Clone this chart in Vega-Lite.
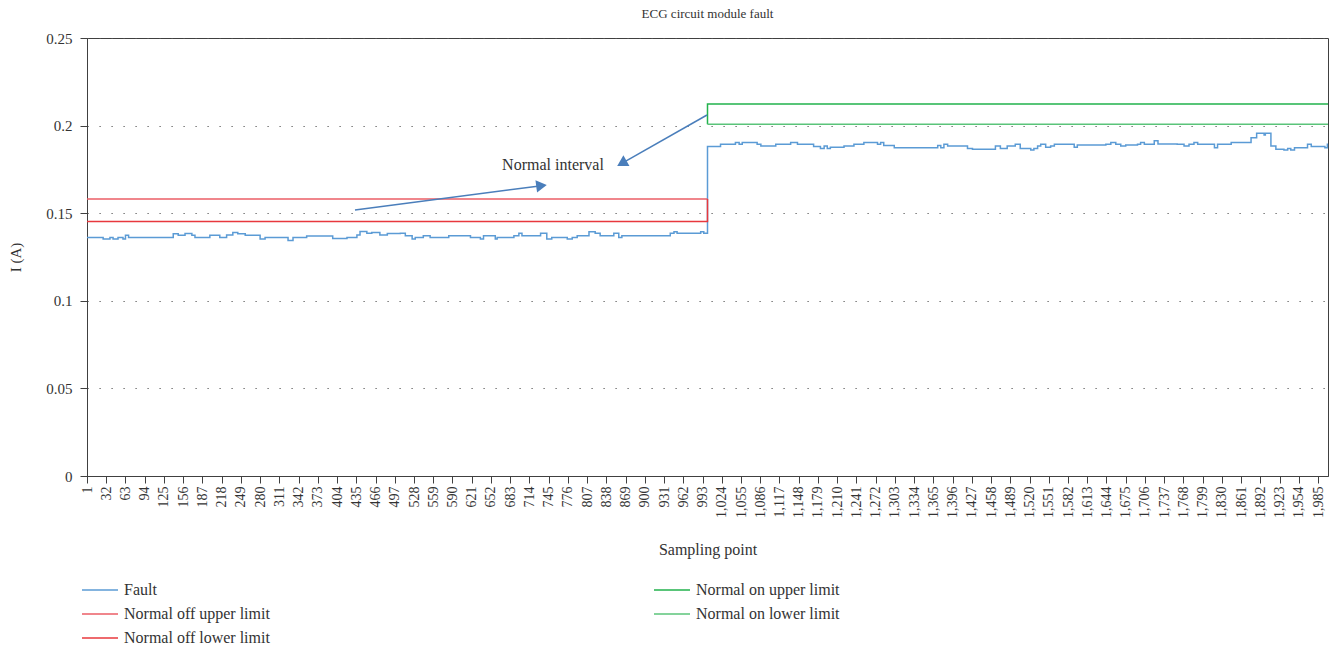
{
  "$schema": "https://vega.github.io/schema/vega-lite/v6.json",
  "width": 1241,
  "height": 438,
  "autosize": {"type": "none"},
  "padding": {"left": 87, "top": 38, "right": 6, "bottom": 176},
  "background": "white",
  "config": {
    "font": "Liberation Serif",
    "view": {"stroke": "#404040", "strokeWidth": 1},
    "axis": {
      "domainColor": "#404040",
      "tickColor": "#404040",
      "labelColor": "#333333",
      "titleColor": "#333333",
      "titleFontWeight": "normal",
      "labelFont": "Liberation Serif",
      "titleFont": "Liberation Serif"
    },
    "legend": {"labelFont": "Liberation Serif"}
  },
  "title": {
    "text": "ECG circuit module fault",
    "fontSize": 13,
    "fontWeight": "normal",
    "color": "#333333",
    "anchor": "middle",
    "frame": "group",
    "offset": 10
  },
  "datasets": {
    "series": [
      {"sample": 1, "current": 0.1362, "series": "Fault"},
      {"sample": 27, "current": 0.1353, "series": "Fault"},
      {"sample": 38, "current": 0.1362, "series": "Fault"},
      {"sample": 43, "current": 0.1353, "series": "Fault"},
      {"sample": 51, "current": 0.1362, "series": "Fault"},
      {"sample": 59, "current": 0.1353, "series": "Fault"},
      {"sample": 63, "current": 0.1374, "series": "Fault"},
      {"sample": 68, "current": 0.1362, "series": "Fault"},
      {"sample": 140, "current": 0.1382, "series": "Fault"},
      {"sample": 148, "current": 0.1374, "series": "Fault"},
      {"sample": 159, "current": 0.1384, "series": "Fault"},
      {"sample": 170, "current": 0.1374, "series": "Fault"},
      {"sample": 175, "current": 0.1362, "series": "Fault"},
      {"sample": 199, "current": 0.1374, "series": "Fault"},
      {"sample": 215, "current": 0.1362, "series": "Fault"},
      {"sample": 226, "current": 0.1376, "series": "Fault"},
      {"sample": 236, "current": 0.139, "series": "Fault"},
      {"sample": 244, "current": 0.1382, "series": "Fault"},
      {"sample": 256, "current": 0.1374, "series": "Fault"},
      {"sample": 280, "current": 0.1353, "series": "Fault"},
      {"sample": 288, "current": 0.1362, "series": "Fault"},
      {"sample": 325, "current": 0.1344, "series": "Fault"},
      {"sample": 333, "current": 0.1362, "series": "Fault"},
      {"sample": 355, "current": 0.137, "series": "Fault"},
      {"sample": 397, "current": 0.1356, "series": "Fault"},
      {"sample": 420, "current": 0.1362, "series": "Fault"},
      {"sample": 436, "current": 0.1376, "series": "Fault"},
      {"sample": 441, "current": 0.1395, "series": "Fault"},
      {"sample": 452, "current": 0.1386, "series": "Fault"},
      {"sample": 460, "current": 0.139, "series": "Fault"},
      {"sample": 473, "current": 0.1376, "series": "Fault"},
      {"sample": 485, "current": 0.1384, "series": "Fault"},
      {"sample": 506, "current": 0.1385, "series": "Fault"},
      {"sample": 514, "current": 0.1372, "series": "Fault"},
      {"sample": 525, "current": 0.1353, "series": "Fault"},
      {"sample": 530, "current": 0.1362, "series": "Fault"},
      {"sample": 543, "current": 0.1372, "series": "Fault"},
      {"sample": 554, "current": 0.1362, "series": "Fault"},
      {"sample": 584, "current": 0.1372, "series": "Fault"},
      {"sample": 619, "current": 0.1362, "series": "Fault"},
      {"sample": 635, "current": 0.1353, "series": "Fault"},
      {"sample": 640, "current": 0.1372, "series": "Fault"},
      {"sample": 659, "current": 0.1353, "series": "Fault"},
      {"sample": 662, "current": 0.1362, "series": "Fault"},
      {"sample": 689, "current": 0.1372, "series": "Fault"},
      {"sample": 697, "current": 0.1385, "series": "Fault"},
      {"sample": 702, "current": 0.1372, "series": "Fault"},
      {"sample": 732, "current": 0.1385, "series": "Fault"},
      {"sample": 742, "current": 0.1353, "series": "Fault"},
      {"sample": 750, "current": 0.1362, "series": "Fault"},
      {"sample": 775, "current": 0.1353, "series": "Fault"},
      {"sample": 783, "current": 0.1362, "series": "Fault"},
      {"sample": 791, "current": 0.1372, "series": "Fault"},
      {"sample": 810, "current": 0.1394, "series": "Fault"},
      {"sample": 820, "current": 0.1385, "series": "Fault"},
      {"sample": 828, "current": 0.1372, "series": "Fault"},
      {"sample": 850, "current": 0.1385, "series": "Fault"},
      {"sample": 858, "current": 0.1362, "series": "Fault"},
      {"sample": 863, "current": 0.1372, "series": "Fault"},
      {"sample": 941, "current": 0.1385, "series": "Fault"},
      {"sample": 947, "current": 0.1394, "series": "Fault"},
      {"sample": 952, "current": 0.1385, "series": "Fault"},
      {"sample": 990, "current": 0.1394, "series": "Fault"},
      {"sample": 995, "current": 0.1385, "series": "Fault"},
      {"sample": 1001, "current": 0.188, "series": "Fault"},
      {"sample": 1022, "current": 0.1893, "series": "Fault"},
      {"sample": 1046, "current": 0.1904, "series": "Fault"},
      {"sample": 1052, "current": 0.1893, "series": "Fault"},
      {"sample": 1057, "current": 0.1904, "series": "Fault"},
      {"sample": 1081, "current": 0.1893, "series": "Fault"},
      {"sample": 1087, "current": 0.1884, "series": "Fault"},
      {"sample": 1111, "current": 0.1893, "series": "Fault"},
      {"sample": 1135, "current": 0.1904, "series": "Fault"},
      {"sample": 1146, "current": 0.1893, "series": "Fault"},
      {"sample": 1172, "current": 0.188, "series": "Fault"},
      {"sample": 1183, "current": 0.187, "series": "Fault"},
      {"sample": 1189, "current": 0.1884, "series": "Fault"},
      {"sample": 1194, "current": 0.187, "series": "Fault"},
      {"sample": 1199, "current": 0.1876, "series": "Fault"},
      {"sample": 1221, "current": 0.1884, "series": "Fault"},
      {"sample": 1237, "current": 0.1893, "series": "Fault"},
      {"sample": 1253, "current": 0.1904, "series": "Fault"},
      {"sample": 1275, "current": 0.1893, "series": "Fault"},
      {"sample": 1280, "current": 0.1904, "series": "Fault"},
      {"sample": 1285, "current": 0.1887, "series": "Fault"},
      {"sample": 1302, "current": 0.1874, "series": "Fault"},
      {"sample": 1372, "current": 0.1887, "series": "Fault"},
      {"sample": 1377, "current": 0.1874, "series": "Fault"},
      {"sample": 1382, "current": 0.1893, "series": "Fault"},
      {"sample": 1388, "current": 0.1884, "series": "Fault"},
      {"sample": 1420, "current": 0.187, "series": "Fault"},
      {"sample": 1428, "current": 0.1865, "series": "Fault"},
      {"sample": 1465, "current": 0.1884, "series": "Fault"},
      {"sample": 1473, "current": 0.187, "series": "Fault"},
      {"sample": 1484, "current": 0.1884, "series": "Fault"},
      {"sample": 1497, "current": 0.1893, "series": "Fault"},
      {"sample": 1505, "current": 0.187, "series": "Fault"},
      {"sample": 1522, "current": 0.1861, "series": "Fault"},
      {"sample": 1527, "current": 0.187, "series": "Fault"},
      {"sample": 1533, "current": 0.1884, "series": "Fault"},
      {"sample": 1538, "current": 0.1893, "series": "Fault"},
      {"sample": 1546, "current": 0.1876, "series": "Fault"},
      {"sample": 1554, "current": 0.1884, "series": "Fault"},
      {"sample": 1560, "current": 0.1893, "series": "Fault"},
      {"sample": 1592, "current": 0.1876, "series": "Fault"},
      {"sample": 1597, "current": 0.1889, "series": "Fault"},
      {"sample": 1643, "current": 0.1893, "series": "Fault"},
      {"sample": 1651, "current": 0.1904, "series": "Fault"},
      {"sample": 1659, "current": 0.1893, "series": "Fault"},
      {"sample": 1667, "current": 0.1884, "series": "Fault"},
      {"sample": 1675, "current": 0.1889, "series": "Fault"},
      {"sample": 1694, "current": 0.1893, "series": "Fault"},
      {"sample": 1699, "current": 0.1904, "series": "Fault"},
      {"sample": 1705, "current": 0.1893, "series": "Fault"},
      {"sample": 1721, "current": 0.1914, "series": "Fault"},
      {"sample": 1727, "current": 0.1895, "series": "Fault"},
      {"sample": 1758, "current": 0.1893, "series": "Fault"},
      {"sample": 1769, "current": 0.1884, "series": "Fault"},
      {"sample": 1777, "current": 0.1893, "series": "Fault"},
      {"sample": 1785, "current": 0.1904, "series": "Fault"},
      {"sample": 1791, "current": 0.1893, "series": "Fault"},
      {"sample": 1818, "current": 0.1874, "series": "Fault"},
      {"sample": 1823, "current": 0.1893, "series": "Fault"},
      {"sample": 1845, "current": 0.1904, "series": "Fault"},
      {"sample": 1877, "current": 0.1931, "series": "Fault"},
      {"sample": 1886, "current": 0.1956, "series": "Fault"},
      {"sample": 1898, "current": 0.1946, "series": "Fault"},
      {"sample": 1900, "current": 0.1956, "series": "Fault"},
      {"sample": 1909, "current": 0.1884, "series": "Fault"},
      {"sample": 1917, "current": 0.1865, "series": "Fault"},
      {"sample": 1930, "current": 0.1861, "series": "Fault"},
      {"sample": 1936, "current": 0.187, "series": "Fault"},
      {"sample": 1941, "current": 0.1861, "series": "Fault"},
      {"sample": 1947, "current": 0.1874, "series": "Fault"},
      {"sample": 1968, "current": 0.1893, "series": "Fault"},
      {"sample": 1974, "current": 0.188, "series": "Fault"},
      {"sample": 1996, "current": 0.1874, "series": "Fault"},
      {"sample": 2000, "current": 0.1893, "series": "Fault"},
      {"sample": 2001, "current": 0.1893, "series": "Fault"},
      {"sample": 1, "current": 0.1581, "series": "Normal off upper limit"},
      {"sample": 1001, "current": 0.1581, "series": "Normal off upper limit"},
      {"sample": 1, "current": 0.1452, "series": "Normal off lower limit"},
      {"sample": 1001, "current": 0.1452, "series": "Normal off lower limit"},
      {"sample": 1001, "current": 0.1581, "series": "Normal off lower limit"},
      {"sample": 1001, "current": 0.2007, "series": "Normal on upper limit"},
      {"sample": 1001, "current": 0.2123, "series": "Normal on upper limit"},
      {"sample": 2001, "current": 0.2123, "series": "Normal on upper limit"},
      {"sample": 1001, "current": 0.2007, "series": "Normal on lower limit"},
      {"sample": 2001, "current": 0.2007, "series": "Normal on lower limit"}
    ],
    "arrows": [
      {"sample": 432.9, "current": 0.15183, "sample2": 733.5, "current2": 0.1657},
      {"sample": 1000.2, "current": 0.20605, "sample2": 862.9, "current2": 0.17848}
    ]
  },
  "encoding": {
    "x": {
      "field": "sample",
      "type": "quantitative",
      "scale": {"domain": [1, 2001], "nice": false, "zero": false},
      "axis": {
        "values": [1, 32, 63, 94, 125, 156, 187, 218, 249, 280, 311, 342, 373, 404, 435, 466, 497, 528, 559, 590, 621, 652, 683, 714, 745, 776, 807, 838, 869, 900, 931, 962, 993, 1024, 1055, 1086, 1117, 1148, 1179, 1210, 1241, 1272, 1303, 1334, 1365, 1396, 1427, 1458, 1489, 1520, 1551, 1582, 1613, 1644, 1675, 1706, 1737, 1768, 1799, 1830, 1861, 1892, 1923, 1954, 1985],
        "format": ",.0f",
        "labelAngle": -90,
        "labelFlush": false,
        "labelOverlap": false,
        "labelFontSize": 14,
        "labelPadding": 3,
        "tickSize": 7,
        "grid": false,
        "title": "Sampling point",
        "titleFontSize": 16,
        "titlePadding": 24
      }
    },
    "y": {
      "field": "current",
      "type": "quantitative",
      "scale": {"domain": [0, 0.25], "nice": false},
      "axis": {
        "values": [0, 0.05, 0.1, 0.15, 0.2, 0.25],
        "format": ".2~f",
        "labelFontSize": 15,
        "labelPadding": 8,
        "tickSize": 7,
        "grid": true,
        "gridColor": "#555555",
        "gridDash": [1.2, 10.8],
        "gridWidth": 1,
        "title": "I (A)",
        "titleFontSize": 15,
        "titlePadding": 22
      }
    }
  },
  "layer": [
    {
      "data": {"name": "series"},
      "mark": {"type": "line", "interpolate": "step-after", "strokeWidth": 1.5},
      "encoding": {
        "color": {
          "field": "series",
          "type": "nominal",
          "scale": {
            "domain": ["Fault", "Normal off upper limit", "Normal off lower limit", "Normal on upper limit", "Normal on lower limit"],
            "range": ["#5B9BD5", "#EB5E66", "#E8383D", "#22B24C", "#5BC47A"]
          },
          "legend": {
            "orient": "none",
            "legendX": 5,
            "legendY": 544,
            "columns": 2,
            "columnPadding": 381,
            "rowPadding": 8,
            "padding": 0,
            "title": null,
            "symbolType": "M-3,0H3",
            "symbolSize": 144,
            "symbolStrokeWidth": 1.5,
            "labelFontSize": 16,
            "labelOffset": 16,
            "labelColor": "#333333",
            "labelLimit": 0
          }
        },
        "detail": {"field": "series"}
      }
    },
    {
      "data": {"name": "arrows"},
      "mark": {"type": "rule", "color": "#4A7EBB", "strokeWidth": 1.5},
      "encoding": {
        "x2": {"field": "sample2"},
        "y2": {"field": "current2"}
      }
    },
    {
      "data": {"values": [{"sample": 733.5, "current": 0.1657}]},
      "mark": {"type": "point", "shape": "triangle-up", "filled": true, "size": 150, "angle": 82.6, "color": "#4A7EBB", "opacity": 1}
    },
    {
      "data": {"values": [{"sample": 862.9, "current": 0.17848}]},
      "mark": {"type": "point", "shape": "triangle-up", "filled": true, "size": 150, "angle": 240.5, "color": "#4A7EBB", "opacity": 1}
    },
    {
      "data": {"values": [{"sample": 752, "current": 0.1775, "label": "Normal interval"}]},
      "mark": {"type": "text", "fontSize": 16, "align": "center", "baseline": "middle", "color": "#333333", "font": "Liberation Serif"},
      "encoding": {
        "text": {"field": "label"}
      }
    }
  ]
}
